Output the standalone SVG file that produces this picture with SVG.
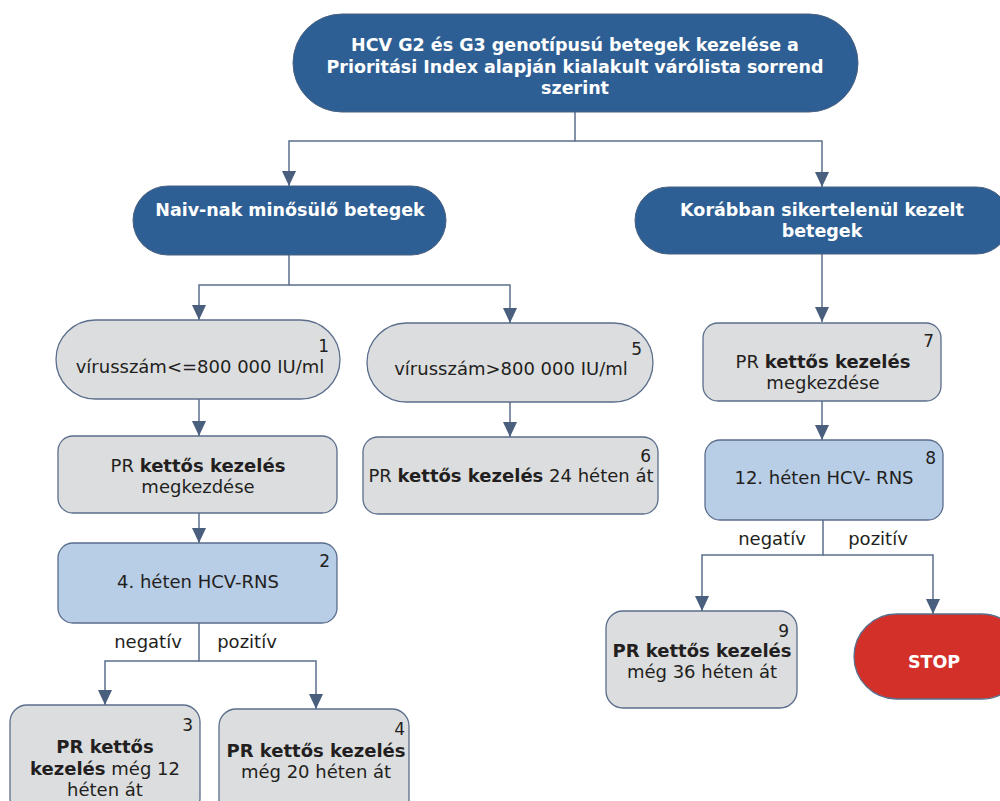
<svg xmlns="http://www.w3.org/2000/svg" width="1000" height="801" viewBox="0 0 1000 801">
<style>
text{font-family:"DejaVu Sans","Verdana",sans-serif;fill:#231f20;}
.t{font-size:18px;text-anchor:middle;}
.w{font-size:17.5px;font-weight:bold;fill:#ffffff;text-anchor:middle;}
.n{font-size:17px;text-anchor:end;}
.b{font-weight:bold;}
.dark{fill:#2e5f94;stroke:#4a6180;stroke-width:1;}
.gray{fill:#dcdddf;stroke:#5a6e8c;stroke-width:1.3;}
.blue{fill:#b8cde6;stroke:#5a6e8c;stroke-width:1.3;}
.red{fill:#d3302a;stroke:#5a6e8c;stroke-width:1.3;}
.c{fill:none;stroke:#5b6f8d;stroke-width:1.5;}
</style>
<defs>
<marker id="ah" markerUnits="userSpaceOnUse" markerWidth="15" markerHeight="14" refX="15" refY="7" orient="auto">
<path d="M0,0 L15,7 L0,14 z" fill="#4a5e7e"/>
</marker>
</defs>
<g id="connectors">
<path class="c" d="M575,112 V141 H289 V186" marker-end="url(#ah)"/>
<path class="c" d="M575,141 H822 V187" marker-end="url(#ah)"/>
<path class="c" d="M289,254 V285 H199 V320" marker-end="url(#ah)"/>
<path class="c" d="M289,285 H510 V323" marker-end="url(#ah)"/>
<path class="c" d="M822,253 V322" marker-end="url(#ah)"/>
<path class="c" d="M199,399 V436" marker-end="url(#ah)"/>
<path class="c" d="M510,402 V437" marker-end="url(#ah)"/>
<path class="c" d="M199,513 V543" marker-end="url(#ah)"/>
<path class="c" d="M822,401 V440" marker-end="url(#ah)"/>
<path class="c" d="M199,623 V661 H105 V705" marker-end="url(#ah)"/>
<path class="c" d="M199,661 H316 V709" marker-end="url(#ah)"/>
<path class="c" d="M823,520 V555 H702 V611" marker-end="url(#ah)"/>
<path class="c" d="M823,555 H933 V614" marker-end="url(#ah)"/>
<text class="t" x="148" y="648">negatív</text>
<text class="t" x="247" y="648">pozitív</text>
<text class="t" x="772" y="545">negatív</text>
<text class="t" x="878" y="545">pozitív</text>
</g>
<g id="top">
<rect class="dark" x="293" y="14" width="565" height="98" rx="49"/>
<text class="w" x="575" y="51">HCV G2 és G3 genotípusú betegek kezelése a</text>
<text class="w" x="575" y="73">Prioritási Index alapján kialakult várólista sorrend</text>
<text class="w" x="575" y="94">szerint</text>
</g>
<g id="naiv">
<rect class="dark" x="133" y="186" width="313" height="69" rx="34.5"/>
<text class="w" x="290" y="216">Naiv-nak minősülő betegek</text>
</g>
<g id="korabban">
<rect class="dark" x="635" y="187" width="375" height="67" rx="33.5"/>
<text class="w" x="822" y="216">Korábban sikertelenül kezelt</text>
<text class="w" x="822" y="237">betegek</text>
</g>
<g id="n1">
<rect class="gray" x="56" y="320" width="284" height="79" rx="39.5"/>
<text class="n" x="329" y="352">1</text>
<text class="t" x="200" y="373">vírusszám&lt;=800 000 IU/ml</text>
</g>
<g id="n5">
<rect class="gray" x="367" y="323" width="286" height="79" rx="39.5"/>
<text class="n" x="642" y="355">5</text>
<text class="t" x="511" y="375">vírusszám&gt;800 000 IU/ml</text>
</g>
<g id="n6">
<rect class="gray" x="363" y="437" width="295" height="77" rx="15"/>
<text class="n" x="651" y="462">6</text>
<text class="t" x="511" y="482">PR <tspan class="b">kettős kezelés</tspan> 24 héten át</text>
</g>
<g id="nstart1">
<rect class="gray" x="58" y="436" width="279" height="77" rx="15"/>
<text class="t" x="198" y="472">PR <tspan class="b">kettős kezelés</tspan></text>
<text class="t" x="198" y="493">megkezdése</text>
</g>
<g id="n2">
<rect class="blue" x="58" y="543" width="279" height="80" rx="15"/>
<text class="n" x="330" y="567">2</text>
<text class="t" x="198" y="588">4. héten HCV-RNS</text>
</g>
<g id="n3">
<rect class="gray" x="10" y="705" width="190" height="110" rx="17"/>
<text class="n" x="193" y="731">3</text>
<text class="t" x="105" y="753"><tspan class="b">PR kettős</tspan></text>
<text class="t" x="105" y="775"><tspan class="b">kezelés</tspan> még 12</text>
<text class="t" x="105" y="796">héten át</text>
</g>
<g id="n4">
<rect class="gray" x="219" y="709" width="190" height="110" rx="17"/>
<text class="n" x="405" y="735">4</text>
<text class="t" x="316" y="757"><tspan class="b">PR kettős kezelés</tspan></text>
<text class="t" x="316" y="778">még 20 héten át</text>
</g>
<g id="n7">
<rect class="gray" x="703" y="323" width="238" height="78" rx="15"/>
<text class="n" x="934" y="347">7</text>
<text class="t" x="823" y="368">PR <tspan class="b">kettős kezelés</tspan></text>
<text class="t" x="823" y="389">megkezdése</text>
</g>
<g id="n8">
<rect class="blue" x="705" y="440" width="238" height="80" rx="15"/>
<text class="n" x="936" y="464">8</text>
<text class="t" x="824" y="484">12. héten HCV- RNS</text>
</g>
<g id="n9">
<rect class="gray" x="606" y="611" width="191" height="97" rx="17"/>
<text class="n" x="789" y="637">9</text>
<text class="t" x="702" y="657"><tspan class="b">PR kettős kezelés</tspan></text>
<text class="t" x="702" y="678">még 36 héten át</text>
</g>
<g id="stop">
<rect class="red" x="854" y="614" width="170" height="85" rx="42.5"/>
<text class="w" x="934" y="668">STOP</text>
</g>
</svg>
